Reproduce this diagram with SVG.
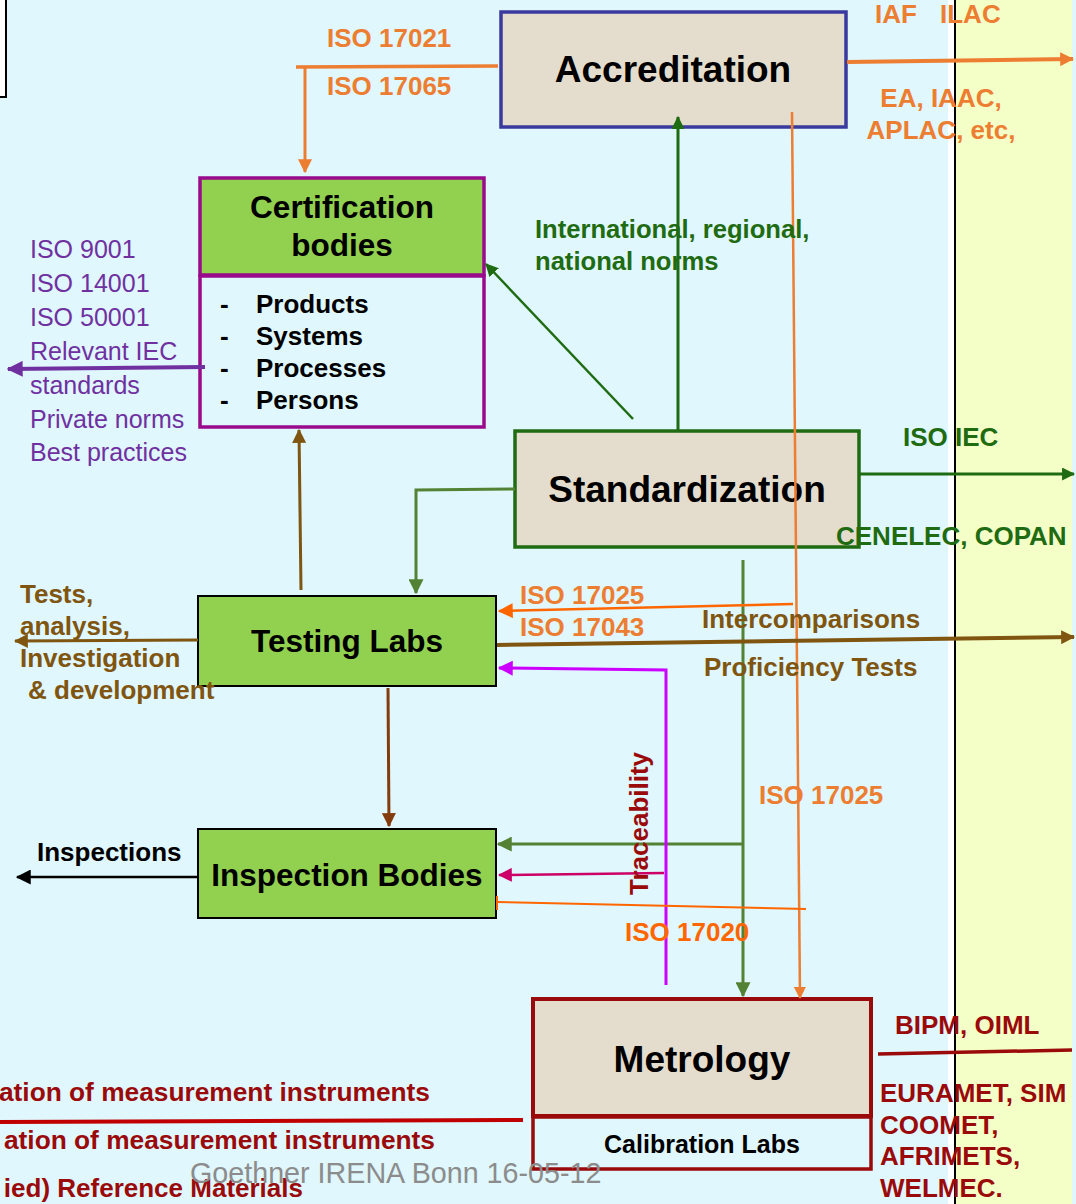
<svg xmlns="http://www.w3.org/2000/svg" width="1076" height="1204" viewBox="0 0 1076 1204">
<style>
text{font-family:"Liberation Sans",Arial,sans-serif;font-weight:bold;font-size:26px}
.mid{text-anchor:middle}
.big{font-size:37px}
.nd{font-size:31.5px}
.org{fill:#ed7d31}
.grn{fill:#1f6b12}
.brn{fill:#7f5510}
.red{fill:#9b0a0a}
.pur{fill:#7030a0;font-weight:normal;font-size:25px}
.wm{fill:#8c8c8c;font-weight:normal;font-size:28.7px}
.beige{fill:#e4dccc}
.lime{fill:#92d050}
.cy{fill:#dff7fd}
line,polyline,path.c{fill:none}
</style>
<defs>
<marker id="aOr" viewBox="0 0 12 12" refX="11" refY="6" markerWidth="14" markerHeight="14" markerUnits="userSpaceOnUse" orient="auto"><path d="M0,0L12,6L0,12z" fill="#ed7d31"/></marker>
<marker id="aOr2" viewBox="0 0 12 12" refX="11" refY="6" markerWidth="12" markerHeight="12" markerUnits="userSpaceOnUse" orient="auto"><path d="M0,0L12,6L0,12z" fill="#ed7d31"/></marker>
<marker id="aOg" viewBox="0 0 12 12" refX="11" refY="6" markerWidth="15" markerHeight="15" markerUnits="userSpaceOnUse" orient="auto"><path d="M0,0L12,6L0,12z" fill="#ff6600"/></marker>
<marker id="aDg" viewBox="0 0 12 12" refX="11" refY="6" markerWidth="13" markerHeight="13" markerUnits="userSpaceOnUse" orient="auto"><path d="M0,0L12,6L0,12z" fill="#1f6b12"/></marker>
<marker id="aOl" viewBox="0 0 12 12" refX="11" refY="6" markerWidth="15" markerHeight="15" markerUnits="userSpaceOnUse" orient="auto"><path d="M0,0L12,6L0,12z" fill="#548235"/></marker>
<marker id="aBr" viewBox="0 0 12 12" refX="11" refY="6" markerWidth="14" markerHeight="14" markerUnits="userSpaceOnUse" orient="auto"><path d="M0,0L12,6L0,12z" fill="#7f5510"/></marker>
<marker id="aDb" viewBox="0 0 12 12" refX="11" refY="6" markerWidth="14" markerHeight="14" markerUnits="userSpaceOnUse" orient="auto"><path d="M0,0L12,6L0,12z" fill="#843c0c"/></marker>
<marker id="aMg" viewBox="0 0 12 12" refX="11" refY="6" markerWidth="15" markerHeight="15" markerUnits="userSpaceOnUse" orient="auto"><path d="M0,0L12,6L0,12z" fill="#cc00ff"/></marker>
<marker id="aCr" viewBox="0 0 12 12" refX="11" refY="6" markerWidth="14" markerHeight="14" markerUnits="userSpaceOnUse" orient="auto"><path d="M0,0L12,6L0,12z" fill="#cc0066"/></marker>
<marker id="aBk" viewBox="0 0 12 12" refX="11" refY="6" markerWidth="15" markerHeight="15" markerUnits="userSpaceOnUse" orient="auto"><path d="M0,0L12,6L0,12z" fill="#000"/></marker>
<marker id="aPu" viewBox="0 0 12 12" refX="11" refY="6" markerWidth="16" markerHeight="16" markerUnits="userSpaceOnUse" orient="auto"><path d="M0,0L12,6L0,12z" fill="#7030a0"/></marker>
</defs>

<!-- background -->
<rect x="0" y="0" width="1076" height="1204" fill="#dff7fd"/>
<rect x="948" y="0" width="7" height="1204" fill="#ffffff"/>
<rect x="956" y="0" width="116" height="1204" fill="#f4ffc8"/>
<line x1="955" y1="0" x2="955" y2="1204" stroke="#000" stroke-width="2"/>
<rect x="-10" y="-10" width="16" height="107" fill="#fff" stroke="#000" stroke-width="2"/>

<g id="accreditation">
<rect x="501" y="12" width="345" height="115" class="beige" stroke="#3a3a9e" stroke-width="3.5"/>
<text x="673" y="82" class="mid big">Accreditation</text>
</g>

<g id="certification">
<rect x="200" y="178" width="284" height="97" class="lime" stroke="#990a8c" stroke-width="3.5"/>
<text x="342" y="218" class="mid nd">Certification</text>
<text x="342" y="256" class="mid nd">bodies</text>
<rect x="200" y="276" width="284" height="151" class="cy" stroke="#990a8c" stroke-width="3.5"/>
<text x="220" y="313">-</text><text x="256" y="313">Products</text>
<text x="220" y="345">-</text><text x="256" y="345">Systems</text>
<text x="220" y="377">-</text><text x="256" y="377">Processes</text>
<text x="220" y="409">-</text><text x="256" y="409">Persons</text>
</g>

<g id="standardization">
<rect x="515" y="431" width="344" height="116" class="beige" stroke="#1f6b12" stroke-width="3.5"/>
<text x="687" y="502" class="mid big">Standardization</text>
</g>

<g id="testing-labs">
<rect x="198" y="596" width="298" height="90" class="lime" stroke="#000" stroke-width="2"/>
<text x="347" y="652" class="mid nd">Testing Labs</text>
</g>

<g id="inspection-bodies">
<rect x="198" y="829" width="298" height="89" class="lime" stroke="#000" stroke-width="2"/>
<text x="347" y="886" class="mid nd">Inspection Bodies</text>
</g>

<g id="metrology">
<rect x="533" y="999" width="338" height="117" class="beige" stroke="#9b0a0a" stroke-width="4"/>
<text x="702" y="1072" class="mid big">Metrology</text>
<rect x="533" y="1117" width="338" height="52" class="cy" stroke="#9b0a0a" stroke-width="3.5"/>
<text x="702" y="1153" class="mid" style="font-size:25px">Calibration Labs</text>
</g>

<g id="connectors">
<line x1="498" y1="66" x2="296" y2="67" stroke="#ed7d31" stroke-width="3.5"/>
<line x1="305" y1="67" x2="305" y2="172" stroke="#ed7d31" stroke-width="3" marker-end="url(#aOr)"/>
<line x1="847" y1="62" x2="1073" y2="59" stroke="#ed7d31" stroke-width="4" marker-end="url(#aOr)"/>
<line x1="792" y1="112" x2="800" y2="998" stroke="#ed7d31" stroke-width="2.5" marker-end="url(#aOr2)"/>
<line x1="678" y1="430" x2="678" y2="117" stroke="#1f6b12" stroke-width="3" marker-end="url(#aDg)"/>
<line x1="633" y1="419" x2="486" y2="264" stroke="#1f6b12" stroke-width="2.5" marker-end="url(#aDg)"/>
<line x1="860" y1="474" x2="1074" y2="474" stroke="#1f6b12" stroke-width="3" marker-end="url(#aDg)"/>
<polyline points="515,489 416,490 416,593" stroke="#548235" stroke-width="3" marker-end="url(#aOl)"/>
<line x1="743" y1="560" x2="743" y2="996" stroke="#548235" stroke-width="3" marker-end="url(#aOl)"/>
<line x1="743" y1="844" x2="498" y2="844" stroke="#548235" stroke-width="3" marker-end="url(#aOl)"/>
<line x1="301" y1="590" x2="299" y2="430" stroke="#7f5510" stroke-width="3" marker-end="url(#aBr)"/>
<line x1="198" y1="640" x2="15" y2="641" stroke="#7f5510" stroke-width="3" marker-end="url(#aBr)"/>
<line x1="497" y1="645" x2="1074" y2="637" stroke="#7f5510" stroke-width="4" marker-end="url(#aBr)"/>
<line x1="388" y1="688" x2="389" y2="826" stroke="#843c0c" stroke-width="3" marker-end="url(#aDb)"/>
<line x1="793" y1="604" x2="499" y2="611" stroke="#ff6600" stroke-width="2.5" marker-end="url(#aOg)"/>
<polyline points="666,985 666,670 499,668" stroke="#cc00ff" stroke-width="3" marker-end="url(#aMg)"/>
<line x1="664" y1="873" x2="499" y2="875" stroke="#cc0066" stroke-width="2.5" marker-end="url(#aCr)"/>
<line x1="806" y1="909" x2="497" y2="902" stroke="#ff6600" stroke-width="2"/>
<line x1="497" y1="896" x2="497" y2="910" stroke="#ff6600" stroke-width="2"/>
<line x1="198" y1="877" x2="17" y2="877" stroke="#000" stroke-width="2.5" marker-end="url(#aBk)"/>
<line x1="205" y1="367" x2="8" y2="369" stroke="#7030a0" stroke-width="4" marker-end="url(#aPu)"/>
<line x1="0" y1="1122" x2="523" y2="1120" stroke="#c00000" stroke-width="4"/>
<line x1="878" y1="1054" x2="1072" y2="1050" stroke="#9b0a0a" stroke-width="3.5"/>
</g>

<g id="labels">
<text x="327" y="47" class="org">ISO 17021</text>
<text x="327" y="95" class="org">ISO 17065</text>
<text x="875" y="23" class="org">IAF</text>
<text x="940" y="23" class="org">ILAC</text>
<text x="941" y="107" class="org mid">EA, IAAC,</text>
<text x="941" y="139" class="org mid">APLAC, etc,</text>
<text x="535" y="238" class="grn" style="font-size:25.6px">International, regional,</text>
<text x="535" y="270" class="grn" style="font-size:25.6px">national norms</text>
<text x="903" y="446" class="grn">ISO IEC</text>
<text x="836" y="545" class="grn">CENELEC, COPAN</text>
<text x="30" y="258" class="pur">ISO 9001</text>
<text x="30" y="292" class="pur">ISO 14001</text>
<text x="30" y="326" class="pur">ISO 50001</text>
<text x="30" y="360" class="pur">Relevant IEC</text>
<text x="30" y="394" class="pur">standards</text>
<text x="30" y="428" class="pur">Private norms</text>
<text x="30" y="461" class="pur">Best practices</text>
<text x="20" y="603" class="brn">Tests,</text>
<text x="20" y="635" class="brn">analysis,</text>
<text x="20" y="667" class="brn">Investigation</text>
<text x="28" y="699" class="brn">&amp; development</text>
<text x="520" y="604" class="org">ISO 17025</text>
<text x="520" y="636" class="org">ISO 17043</text>
<text x="702" y="628" class="brn">Intercomparisons</text>
<text x="704" y="676" class="brn">Proficiency Tests</text>
<text x="759" y="804" class="org">ISO 17025</text>
<text transform="translate(648,895) rotate(-90)" class="red">Traceability</text>
<text x="625" y="941" fill="#ff6600">ISO 17020</text>
<text x="37" y="861">Inspections</text>
<text x="895" y="1034" class="red">BIPM, OIML</text>
<text x="880" y="1102" class="red">EURAMET, SIM</text>
<text x="880" y="1134" class="red">COOMET,</text>
<text x="880" y="1165" class="red">AFRIMETS,</text>
<text x="880" y="1197" class="red">WELMEC.</text>
<text x="430" y="1101" class="red" text-anchor="end" style="font-size:26.3px">ation of measurement instruments</text>
<text x="435" y="1149" class="red" text-anchor="end" style="font-size:26.3px">ation of measurement instruments</text>
<text x="303" y="1197" class="red" text-anchor="end">ied) Reference Materials</text>
<text x="190" y="1183" class="wm">Goethner IRENA Bonn 16-05-12</text>
</g>
</svg>
